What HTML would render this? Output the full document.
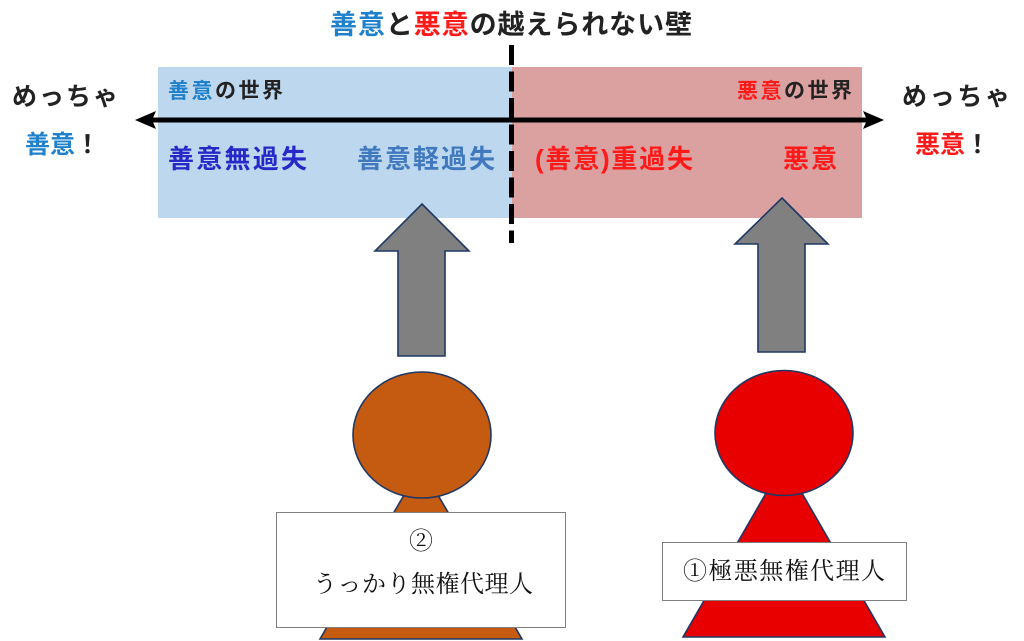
<!DOCTYPE html>
<html>
<head>
<meta charset="utf-8">
<style>
html,body{margin:0;padding:0;background:#fff;}
body{width:1024px;height:641px;overflow:hidden;}
svg{display:block;}
.b{font-family:"Liberation Sans","Noto Sans CJK JP",sans-serif;font-weight:bold;}
.s{font-family:"Liberation Serif","Noto Serif CJK SC","Noto Serif CJK JP",serif;}
</style>
</head>
<body>
<svg width="1024" height="641" viewBox="0 0 1024 641" xmlns="http://www.w3.org/2000/svg">
  <!-- background rects -->
  <rect x="158" y="67" width="354" height="151" fill="#BDD7EE"/>
  <rect x="512" y="67" width="350" height="151" fill="#DBA0A0"/>

  <!-- horizontal double arrow -->
  <line x1="150" y1="120" x2="868" y2="120" stroke="#000" stroke-width="5"/>
  <polygon points="135,120 156,111 152,120 156,129" fill="#000"/>
  <polygon points="884,120 863,111 867,120 863,129" fill="#000"/>

  <!-- dashed wall -->
  <line x1="511.5" y1="45" x2="511.5" y2="243" stroke="#000" stroke-width="5" stroke-dasharray="20 6.5"/>

  <!-- title -->
  <text class="b" x="330" y="25" font-size="27" dominant-baseline="central" textLength="362" lengthAdjust="spacing" fill="#222"><tspan fill="#1F80CC">善意</tspan>と<tspan fill="#FF1A1A">悪意</tspan>の越えられない壁</text>

  <!-- world labels -->
  <text class="b" x="168" y="91" font-size="21" dominant-baseline="central" textLength="115" lengthAdjust="spacing" fill="#222"><tspan fill="#1F80CC">善意</tspan>の世界</text>
  <text class="b" x="737" y="91" font-size="21" dominant-baseline="central" textLength="115" lengthAdjust="spacing" fill="#222"><tspan fill="#FF1A1A">悪意</tspan>の世界</text>

  <!-- categories -->
  <text class="b" x="168" y="159" font-size="26" dominant-baseline="central" textLength="139" lengthAdjust="spacing" fill="#2828C8">善意無過失</text>
  <text class="b" x="357" y="159" font-size="26" dominant-baseline="central" textLength="138" lengthAdjust="spacing" fill="#4079BE">善意軽過失</text>
  <text class="b" x="535" y="159" font-size="26" dominant-baseline="central" textLength="158" lengthAdjust="spacing" fill="#FF1A1A">(善意)重過失</text>
  <text class="b" x="783" y="159" font-size="26" dominant-baseline="central" textLength="54" lengthAdjust="spacing" fill="#FF1A1A">悪意</text>

  <!-- side labels -->
  <text class="b" x="12" y="97" font-size="25" dominant-baseline="central" textLength="106" lengthAdjust="spacing" fill="#222">めっちゃ</text>
  <text class="b" x="25" y="145" font-size="25" dominant-baseline="central" textLength="75" lengthAdjust="spacing" fill="#222"><tspan fill="#1F80CC">善意</tspan>！</text>
  <text class="b" x="902" y="97" font-size="25" dominant-baseline="central" textLength="108" lengthAdjust="spacing" fill="#222">めっちゃ</text>
  <text class="b" x="915" y="145" font-size="25" dominant-baseline="central" textLength="75" lengthAdjust="spacing" fill="#222"><tspan fill="#FF1A1A">悪意</tspan>！</text>

  <!-- up arrows -->
  <polygon points="422,204 469,251 445,251 445,356 398,356 398,251 375,251" fill="#808080" stroke="#1F3864" stroke-width="1.6" stroke-linejoin="miter"/>
  <polygon points="782,198 828,244 805,244 805,352 758,352 758,244 735,244" fill="#808080" stroke="#1F3864" stroke-width="1.6" stroke-linejoin="miter"/>

  <!-- orange person -->
  <polygon points="421,466 522,639 320,639" fill="#C55A11" stroke="#1F3864" stroke-width="1.6"/>
  <ellipse cx="422" cy="435" rx="69" ry="63" fill="#C55A11" stroke="#1F3864" stroke-width="1.6"/>

  <!-- red person -->
  <polygon points="784,462 885,637 683,637" fill="#E80000" stroke="#1F3864" stroke-width="1.6"/>
  <ellipse cx="784" cy="433" rx="69" ry="62.5" fill="#E80000" stroke="#1F3864" stroke-width="1.6"/>

  <!-- label boxes -->
  <rect x="276.5" y="512.5" width="289" height="115" fill="#fff" stroke="#7F7F7F" stroke-width="1"/>
  <text class="s" x="421" y="542" font-size="24" dominant-baseline="central" text-anchor="middle" fill="#111">②</text>
  <text class="s" x="313" y="585" font-size="24" dominant-baseline="central" textLength="220" lengthAdjust="spacing" fill="#111">うっかり無権代理人</text>

  <rect x="662.5" y="542.5" width="244" height="58" fill="#fff" stroke="#7F7F7F" stroke-width="1"/>
  <text class="s" x="683" y="572" font-size="24" dominant-baseline="central" textLength="202" lengthAdjust="spacing" fill="#111">①極悪無権代理人</text>
</svg>
</body>
</html>
